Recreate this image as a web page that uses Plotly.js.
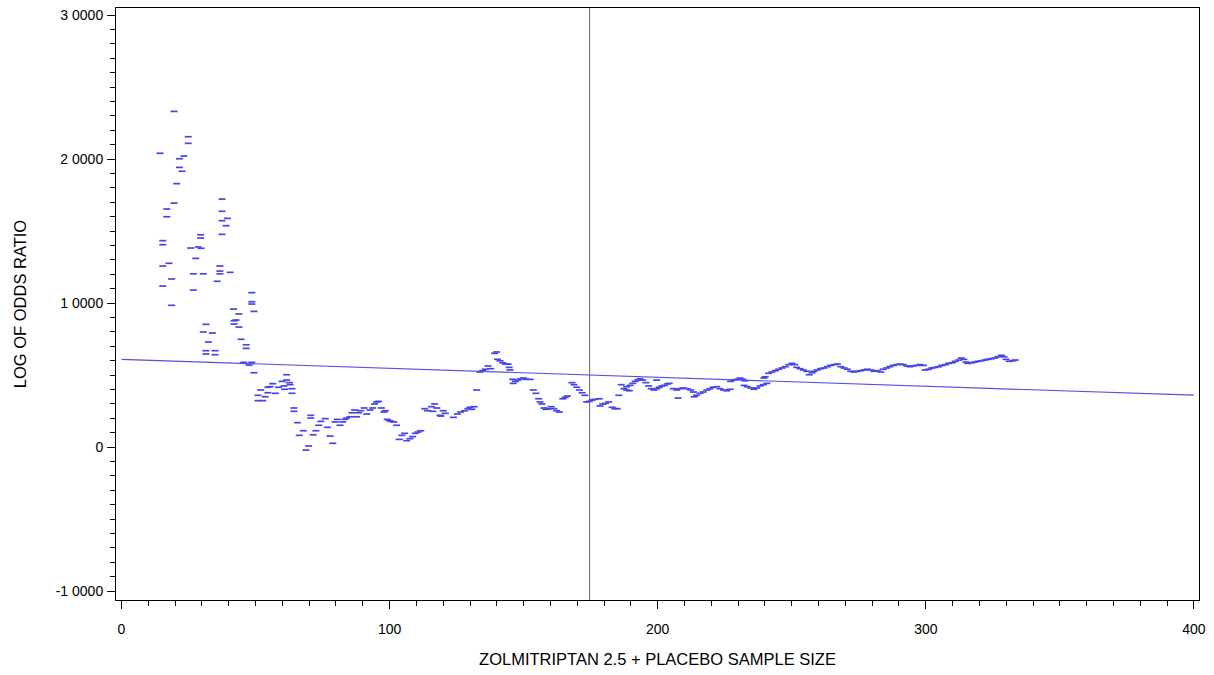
<!DOCTYPE html>
<html>
<head>
<meta charset="utf-8">
<script src="https://cdn.plot.ly/plotly-3.0.1.min.js"></script>
<style>
html,body{margin:0;padding:0;background:#fff;}
#chart{width:1214px;height:675px;}
</style>
</head>
<body>
<div id="chart"></div>
<script>
// Cumulative sample size (zolmitriptan 2.5 + placebo)
const sampleSize = [
14.4,15.4,15.4,15.4,15.4,16.9,16.9,17.7,18.7,18.7,19.6,19.6,20.6,21.6,21.6,22.6,23.3,24.9,24.9,25.8,
26.8,26.8,27.7,28.6,29.5,29.5,29.7,30.5,30.5,31.5,31.5,31.5,32.4,33.9,34.9,34.9,35.7,36.7,36.7,36.7,
37.5,37.5,37.5,37.5,39.0,39.5,40.5,41.8,42.0,42.0,42.7,43.8,43.8,44.6,45.6,46.5,46.5,47.6,48.6,48.6,
48.6,48.6,49.4,49.4,
50.9,50.9,51.9,52.7,53.6,54.6,54.6,55.4,56.4,57.4,58.6,59.9,60.6,60.9,61.6,61.6,62.6,62.9,63.6,63.6,
64.3,64.3,65.6,66.3,67.8,68.8,69.8,70.6,70.6,71.5,72.5,73.6,74.3,76.0,76.8,77.8,78.8,79.7,80.5,81.5,
82.5,83.3,84.0,85.2,86.0,87.0,87.7,88.5,89.2,90.5,91.5,92.7,93.7,94.4,95.2,95.9,96.9,97.9,98.4,99.1,
99.9,100.6,101.6,102.6,103.6,104.6,105.6,106.4,107.6,108.6,109.6,110.6,111.6,
113.1,114.1,115.6,116.1,116.8,117.6,118.8,119.1,120.0,120.8,123.8,125.3,126.5,128.0,129.2,130.0,130.7,131.5,
132.5,133.7,134.7,135.7,136.7,137.7,139.2,139.9,140.2,141.2,142.2,143.2,144.2,144.6,144.9,145.9,146.1,146.9,
147.9,148.9,149.9,150.9,152.4,153.6,154.6,155.6,156.1,156.8,157.6,158.3,159.3,160.3,161.3,162.3,163.3,164.6,
165.5,166.3,168.0,168.8,169.8,170.8,171.8,172.8,173.5,174.5,175.5,176.5,178.2,178.5,179.5,180.5,181.7,
183.0,184.0,184.9,185.5,186.4,187.4,188.4,188.4,189.4,189.7,190.7,191.6,192.6,193.4,194.4,195.6,196.6,197.6,
198.6,199.6,199.6,200.6,201.6,202.6,203.6,204.3,205.8,207.1,207.6,208.3,209.5,211.0,212.3,213.3,
213.6,214.5,215.8,217.0,218.3,219.5,220.7,222.0,223.2,224.5,225.7,227.0,227.2,228.2,229.5,230.7,231.7,232.2,
232.7,233.4,234.7,235.9,236.9,238.2,239.4,239.6,240.1,240.7,241.4,242.6,243.9,245.1,246.4,247.6,248.9,250.1,
251.1,251.8,253.1,254.3,255.6,256.5,257.6,258.3,259.5,260.8,262.0,263.3,264.5,265.8,267.0,268.3,269.5,270.7,
272.0,273.2,274.4,275.7,277.0,278.2,279.4,280.7,281.9,283.2,284.1,285.4,286.6,287.9,289.1,290.4,291.6,292.9,
294.1,295.3,296.6,297.8,299.1,299.8,301.1,302.3,303.5,304.8,306.0,307.3,308.5,309.8,311.0,312.3,313.2,314.2,
315.0,315.7,317.0,318.2,319.5,320.7,322.0,323.2,324.4,325.7,326.9,328.2,329.2,329.9,331.1,332.4,333.4
];
// Log of odds ratio at each cumulative sample size
const logOddsRatio = [
2.040,1.433,1.405,1.257,1.118,1.653,1.599,1.276,1.167,0.984,2.331,1.694,1.829,2.002,1.942,1.915,2.021,2.155,2.109,1.382,
1.203,1.090,1.310,1.389,1.474,1.451,1.380,1.203,0.799,0.852,0.669,0.646,0.729,0.792,0.669,0.641,1.151,1.257,1.222,1.203,
1.722,1.637,1.572,1.477,1.537,1.588,1.213,0.958,0.877,0.854,0.882,0.924,0.833,0.748,0.588,0.710,0.685,0.569,1.072,1.009,
0.993,0.588,0.942,0.516,
0.359,0.322,0.396,0.322,0.349,0.415,0.377,0.419,0.440,0.373,0.415,0.456,0.424,0.401,0.502,0.465,0.447,0.433,0.405,0.373,
0.271,0.248,0.169,0.081,0.113,-0.021,0.007,0.220,0.201,0.085,0.113,0.151,0.178,0.197,0.137,0.076,0.026,0.174,0.192,0.151,
0.174,0.192,0.201,0.210,0.238,0.257,0.210,0.238,0.252,0.271,0.229,0.257,0.271,0.299,0.313,0.317,0.271,0.243,0.252,0.192,
0.183,0.178,0.174,0.151,0.053,0.081,0.095,0.044,0.058,0.072,0.095,0.104,0.113,
0.266,0.252,0.280,0.248,0.299,0.271,0.220,0.215,0.252,0.234,0.206,0.229,0.243,0.252,0.266,0.276,0.262,0.280,
0.396,0.521,0.530,0.540,0.563,0.544,0.651,0.660,0.609,0.599,0.585,0.576,0.576,0.553,0.535,0.470,0.442,0.456,
0.465,0.474,0.479,0.470,0.470,0.396,0.373,0.335,0.313,0.299,0.271,0.262,0.266,0.280,0.266,0.252,0.243,0.335,
0.345,0.354,0.447,0.433,0.415,0.396,0.377,0.359,0.313,0.317,0.326,0.331,0.335,0.285,0.299,0.303,0.313,
0.276,0.266,0.266,0.359,0.433,0.405,0.419,0.396,0.391,0.428,0.442,0.456,0.465,0.474,0.465,0.447,0.424,0.405,
0.396,0.465,0.405,0.415,0.424,0.428,0.438,0.442,0.405,0.396,0.340,0.405,0.410,0.405,0.396,0.382,
0.349,0.359,0.373,0.382,0.396,0.405,0.415,0.419,0.405,0.396,0.391,0.401,0.456,0.465,0.470,0.479,0.470,0.428,
0.460,0.419,0.410,0.401,0.410,0.424,0.433,0.479,0.488,0.442,0.512,0.521,0.530,0.540,0.549,0.558,0.572,0.581,
0.572,0.553,0.544,0.535,0.526,0.502,0.516,0.526,0.535,0.544,0.549,0.558,0.567,0.572,0.576,0.558,0.549,0.540,
0.526,0.521,0.526,0.530,0.535,0.540,0.535,0.526,0.530,0.521,0.540,0.549,0.558,0.567,0.572,0.576,0.572,0.563,
0.558,0.563,0.567,0.572,0.567,0.535,0.540,0.549,0.553,0.558,0.567,0.572,0.581,0.585,0.595,0.604,0.618,0.609,
0.590,0.581,0.585,0.590,0.595,0.599,0.604,0.609,0.613,0.618,0.627,0.637,0.627,0.609,0.595,0.599,0.604
];
// Fitted trend line end points
const fitX = [0, 400];
const fitY = [0.609, 0.360];
// Reference (required) sample size
const refSampleSize = 174.6;
// Axis ticks
const xTickVals = [0, 100, 200, 300, 400];
const yTickVals = [-1, 0, 1, 2, 3];
const yTickText = ['-1 0000', '0', '1 0000', '2 0000', '3 0000'];

const blue = 'rgb(70,70,232)';
const tickFont = {family: 'Liberation Sans, Arial, sans-serif', size: 14, color: '#000'};
const titleFont = {family: 'Liberation Sans, Arial, sans-serif', size: 16.5, color: '#000'};

const traces = [
  {
    type: 'scatter', mode: 'markers', x: sampleSize, y: logOddsRatio,
    marker: {symbol: 'line-ew', size: 5, line: {color: blue, width: 1.7}},
    hoverinfo: 'x+y', showlegend: false
  },
  {
    type: 'scatter', mode: 'lines', x: fitX, y: fitY,
    line: {color: 'rgb(80,80,235)', width: 1.2}, showlegend: false
  },
  {
    type: 'scatter', mode: 'lines', x: [refSampleSize, refSampleSize], y: [-1.0625, 3.049],
    line: {color: '#666', width: 1}, showlegend: false
  }
];

const layout = {
  width: 1214, height: 675,
  margin: {l: 116, r: 15, t: 8, b: 75},
  paper_bgcolor: '#fff', plot_bgcolor: '#fff',
  font: tickFont,
  xaxis: {
    range: [-2.05, 401.9], tickmode: 'array', tickvals: xTickVals,
    ticks: 'outside', ticklen: 8, tickwidth: 1, tickcolor: '#000',
    ticklabelstandoff: 8,
    showline: true, mirror: true, linecolor: '#000', linewidth: 1,
    showgrid: false, zeroline: false,
    minor: {tickmode: 'linear', tick0: 0, dtick: 10, ticks: 'outside', ticklen: 5, tickcolor: '#000', showgrid: false},
    tickfont: tickFont,
    title: {text: 'ZOLMITRIPTAN 2.5 + PLACEBO SAMPLE SIZE', font: titleFont, standoff: 17}
  },
  yaxis: {
    range: [-1.0625, 3.049], tickmode: 'array', tickvals: yTickVals, ticktext: yTickText,
    ticks: 'outside', ticklen: 8, tickwidth: 1, tickcolor: '#000',
    ticklabelstandoff: 1,
    showline: true, mirror: true, linecolor: '#000', linewidth: 1,
    showgrid: false, zeroline: false,
    minor: {tickmode: 'linear', tick0: 0, dtick: 0.1, ticks: 'outside', ticklen: 5, tickcolor: '#000', showgrid: false},
    tickfont: tickFont,
    title: {text: 'LOG OF ODDS RATIO', font: titleFont, standoff: 24}
  }
};

Plotly.newPlot('chart', traces, layout, {displayModeBar: false, staticPlot: true});
</script>
</body>
</html>
